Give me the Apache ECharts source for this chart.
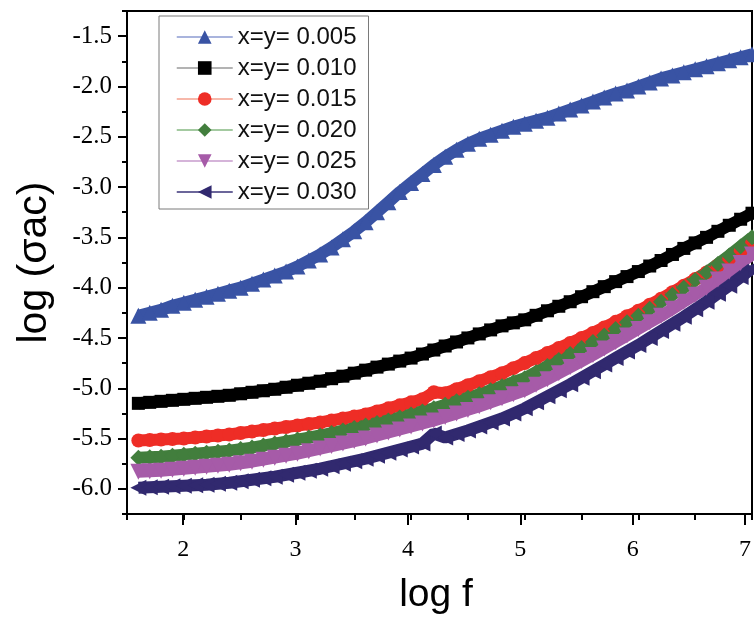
<!DOCTYPE html>
<html>
<head>
<meta charset="utf-8">
<script src="https://cdn.jsdelivr.net/npm/echarts@6/dist/echarts.min.js"></script>
<style>html,body{margin:0;padding:0;background:#fff;}#chart{width:754px;height:622px;}</style>
</head>
<body>
<div id="chart"></div>
<script>
var logF = [1.6,1.7,1.8,1.9,2.0,2.1,2.2,2.3,2.4,2.5,2.6,2.7,2.8,2.9,3.0,3.1,3.2,3.3,3.4,3.5,3.6,3.7,3.8,3.9,4.0,4.1,4.2,4.3,4.4,4.5,4.6,4.7,4.8,4.9,5.0,5.1,5.2,5.3,5.4,5.5,5.6,5.7,5.8,5.9,6.0,6.1,6.2,6.3,6.4,6.5,6.6,6.7,6.8,6.9,7.0];

var s005 = [-4.28,-4.25,-4.22,-4.18,-4.15,-4.12,-4.09,-4.06,-4.03,-4.00,-3.96,-3.92,-3.88,-3.84,-3.79,-3.73,-3.67,-3.60,-3.52,-3.44,-3.35,-3.25,-3.15,-3.05,-2.96,-2.87,-2.78,-2.70,-2.63,-2.57,-2.52,-2.48,-2.44,-2.40,-2.37,-2.34,-2.31,-2.27,-2.23,-2.19,-2.15,-2.11,-2.07,-2.04,-2.00,-1.96,-1.92,-1.89,-1.86,-1.83,-1.80,-1.77,-1.74,-1.71,-1.68];
var s010 = [-5.15,-5.14,-5.13,-5.12,-5.11,-5.10,-5.09,-5.08,-5.07,-5.055,-5.04,-5.025,-5.01,-4.99,-4.97,-4.95,-4.93,-4.905,-4.88,-4.85,-4.82,-4.79,-4.76,-4.73,-4.70,-4.66,-4.62,-4.58,-4.54,-4.50,-4.46,-4.42,-4.38,-4.35,-4.32,-4.275,-4.23,-4.185,-4.14,-4.09,-4.04,-3.99,-3.94,-3.89,-3.84,-3.785,-3.73,-3.67,-3.61,-3.555,-3.50,-3.44,-3.38,-3.32,-3.26];
var s015 = [-5.52,-5.515,-5.51,-5.505,-5.50,-5.49,-5.48,-5.47,-5.46,-5.445,-5.43,-5.415,-5.40,-5.385,-5.37,-5.355,-5.34,-5.32,-5.30,-5.28,-5.26,-5.23,-5.20,-5.17,-5.14,-5.11,-5.04,-5.05,-5.01,-4.97,-4.93,-4.89,-4.85,-4.80,-4.75,-4.70,-4.65,-4.60,-4.55,-4.50,-4.45,-4.395,-4.34,-4.285,-4.23,-4.17,-4.11,-4.045,-3.98,-3.915,-3.85,-3.78,-3.71,-3.635,-3.56];
var s020 = [-5.69,-5.685,-5.68,-5.67,-5.66,-5.65,-5.64,-5.63,-5.62,-5.605,-5.59,-5.57,-5.55,-5.53,-5.51,-5.49,-5.47,-5.445,-5.42,-5.395,-5.37,-5.345,-5.32,-5.29,-5.26,-5.23,-5.20,-5.165,-5.13,-5.095,-5.06,-5.02,-4.98,-4.94,-4.90,-4.84,-4.78,-4.72,-4.66,-4.60,-4.54,-4.475,-4.41,-4.345,-4.28,-4.21,-4.14,-4.07,-4.00,-3.925,-3.85,-3.765,-3.68,-3.59,-3.50];
var s025 = [-5.83,-5.825,-5.82,-5.81,-5.80,-5.79,-5.78,-5.77,-5.76,-5.745,-5.73,-5.71,-5.69,-5.67,-5.65,-5.625,-5.60,-5.575,-5.55,-5.525,-5.50,-5.47,-5.44,-5.41,-5.38,-5.35,-5.32,-5.285,-5.25,-5.215,-5.18,-5.14,-5.10,-5.06,-5.02,-4.965,-4.91,-4.85,-4.79,-4.73,-4.67,-4.605,-4.54,-4.475,-4.41,-4.345,-4.28,-4.21,-4.14,-4.07,-4.00,-3.92,-3.84,-3.755,-3.67];
var s030 = [-5.99,-5.985,-5.98,-5.975,-5.97,-5.965,-5.96,-5.95,-5.94,-5.925,-5.91,-5.895,-5.88,-5.86,-5.84,-5.82,-5.80,-5.775,-5.75,-5.725,-5.70,-5.67,-5.64,-5.61,-5.58,-5.55,-5.45,-5.49,-5.455,-5.42,-5.38,-5.34,-5.30,-5.25,-5.20,-5.14,-5.08,-5.02,-4.96,-4.895,-4.83,-4.765,-4.70,-4.635,-4.57,-4.50,-4.43,-4.36,-4.29,-4.215,-4.14,-4.06,-3.98,-3.895,-3.81];

var seriesNames = ['x=y= 0.005','x=y= 0.010','x=y= 0.015','x=y= 0.020','x=y= 0.025','x=y= 0.030'];
var xTickLabels = [2,3,4,5,6,7];
var yTickLabels = [-6.0,-5.5,-5.0,-4.5,-4.0,-3.5,-3.0,-2.5,-2.0,-1.5];

var allValues = [s005,s010,s015,s020,s025,s030];
var colors = ['#3953a4','#000000','#ee2d26','#427e3d','#a65ba8','#31296f'];
var legendLineColors = ['#8c9bd2','#9a9a9a','#f4a08e','#86b982','#c79bcc','#3a3378'];
var symbols = ['triangle','rect','circle','diamond','triangle','triangle'];
var rotations = [0,0,0,0,180,90];
var sizes = [16,13,14,16,16,16];

function pairs(ys){ var out=[]; for(var i=0;i<logF.length;i++){ out.push([logF[i], ys[i]]); } return out; }

var series = allValues.map(function(v,i){
  return {
    name: seriesNames[i], type:'line', xAxisIndex:0, yAxisIndex:0,
    data: pairs(v), symbol: symbols[i], symbolRotate: rotations[i], symbolSize: sizes[i],
    showAllSymbol: true,
    lineStyle:{color: colors[i], width: 12},
    itemStyle:{color: colors[i]},
    emphasis:{disabled:true}
  };
});

var axisFont = 'Liberation Serif, Times New Roman, serif';
var titleFont = 'Liberation Sans, Arial, sans-serif';
var gridRect = {left:127, right:2, top:11, bottom:108};

var chart = echarts.init(document.getElementById('chart'), null, {renderer:'canvas'});
chart.setOption({
  animation:false,
  backgroundColor:'#ffffff',
  grid:[
    Object.assign({show:true, borderColor:'#000', borderWidth:2, containLabel:false}, gridRect),
    Object.assign({show:false, containLabel:false}, gridRect)
  ],
  legend:{
    orient:'vertical', left:159, top:16,
    backgroundColor:'#ffffff', borderColor:'#7a7a7a', borderWidth:1,
    padding:[9,12,5,17], itemGap:7, itemWidth:56, itemHeight:17,
    textStyle:{fontSize:24, lineHeight:24, fontFamily:titleFont, color:'#111'},
    data: seriesNames.map(function(n,i){ return {name:n, lineStyle:{color:legendLineColors[i], width:1.5}}; })
  },
  xAxis:[
    {type:'value', gridIndex:0, min:1.5, max:7, interval:0.5,
     axisLine:{lineStyle:{color:'#000', width:2}},
     axisTick:{length:6, lineStyle:{color:'#000', width:2}},
     axisLabel:{show:false}, splitLine:{show:false}},
    {type:'value', gridIndex:1, min:1.5, max:7, interval:0.5,
     axisLine:{show:false},
     axisTick:{length:11, customValues:xTickLabels, lineStyle:{color:'#000', width:2}},
     axisLabel:{customValues:xTickLabels, margin:24, fontSize:24, fontFamily:axisFont, color:'#000'},
     splitLine:{show:false},
     name:'log f', nameLocation:'middle', nameGap:62,
     nameTextStyle:{fontSize:39, fontFamily:titleFont, color:'#000'}}
  ],
  yAxis:[
    {type:'value', gridIndex:0, min:-6.25, max:-1.25, interval:0.25,
     axisLine:{lineStyle:{color:'#000', width:2}},
     axisTick:{length:5, lineStyle:{color:'#000', width:2}},
     axisLabel:{show:false}, splitLine:{show:false}},
    {type:'value', gridIndex:1, min:-6.25, max:-1.25, interval:0.25,
     axisLine:{show:false},
     axisTick:{length:9, customValues:yTickLabels, lineStyle:{color:'#000', width:2}},
     axisLabel:{customValues:yTickLabels, margin:15, fontSize:25, fontFamily:axisFont, color:'#000',
       formatter:function(v){ return Number(v).toFixed(1); }},
     splitLine:{show:false},
     name:'log (σac)', nameLocation:'middle', nameGap:72, nameRotate:90,
     nameTextStyle:{fontSize:41, fontFamily:titleFont, color:'#000'}}
  ],
  series: series
});
</script>
</body>
</html>
